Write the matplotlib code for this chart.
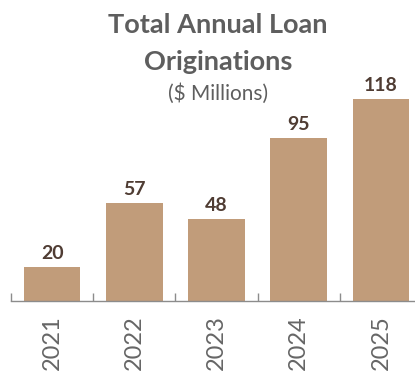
import matplotlib
matplotlib.use("Agg")
import matplotlib.pyplot as plt

years = ["2021", "2022", "2023", "2024", "2025"]
originations = [20, 57, 48, 95, 118]

bar_color = "#C19C7A"
label_color = "#4F3C33"
text_gray = "#5E5E5E"

plt.rcParams["font.family"] = ["Lato", "DejaVu Sans"]

fig = plt.figure(figsize=(4.15, 3.73), dpi=100)
# axis runs past the right edge of the figure, like a cropped slide
ax = fig.add_axes([11 / 415, 72 / 373, 411 / 415, 214 / 373])

x = list(range(len(years)))
bars = ax.bar(x, originations, width=0.69, color=bar_color, zorder=2)
for xi, v in zip(x, originations):
    ax.text(xi, v + 3, str(v), ha="center", va="bottom",
            fontsize=14, fontweight="bold", color=label_color)

ax.set_xlim(-0.5, 4.5)
ax.set_ylim(0, 125)
ax.set_yticks([])
for side in ["top", "right", "left"]:
    ax.spines[side].set_visible(False)
ax.spines["bottom"].set_color("#8C8C8C")
ax.spines["bottom"].set_linewidth(1.0)

ax.set_xticks(x)
ax.set_xticklabels(years, rotation=90, fontsize=17, color="#666666")
ax.tick_params(axis="x", which="major", length=0, pad=10)
ax.set_xticks([i - 0.5 for i in range(len(years) + 1)], minor=True)
ax.tick_params(axis="x", which="minor", direction="in", length=6,
               color="#8C8C8C", width=1.0)

fig.text(218 / 415, 1 - 33 / 373, "Total Annual Loan", ha="center",
         va="baseline", fontsize=19.5, fontweight="bold", color=text_gray)
fig.text(218 / 415, 1 - 70 / 373, "Originations", ha="center",
         va="baseline", fontsize=19.5, fontweight="bold", color=text_gray)
fig.text(218 / 415, 1 - 100 / 373, "($ Millions)", ha="center",
         va="baseline", fontsize=15, color=text_gray)

fig.savefig("out.png", dpi=100)
